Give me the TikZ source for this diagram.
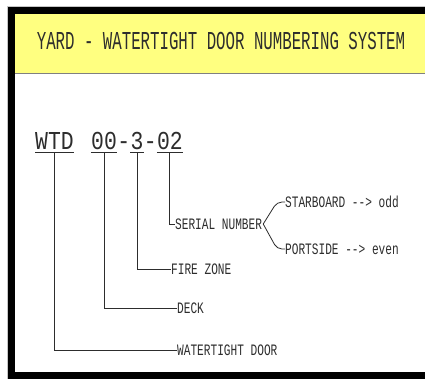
\documentclass[tikz,border=0pt]{standalone}
\usepackage{fontspec}
\usetikzlibrary{positioning}
\newfontfamily\titlefont[FakeStretch=0.61]{Liberation Mono}
\newfontfamily\codefont[FakeStretch=0.83]{Liberation Mono}
\newfontfamily\labelfont[FakeStretch=0.70]{Liberation Mono}
\definecolor{titlebg}{RGB}{255,255,128}
\definecolor{ink}{RGB}{45,45,45}
\begin{document}
\begin{tikzpicture}[x=1pt,y=-1pt,
    ln/.style={draw=ink, line width=0.8pt},
    code/.style={inner sep=0pt, text=ink, font=\codefont\fontsize{25.8}{30}\selectfont},
    lbl/.style={inner sep=0pt, anchor=west, text=ink, font=\labelfont\fontsize{15.9}{18}\selectfont}]
    \useasboundingbox (0,0) rectangle (425,379);
    % Frame
    \draw[gray!45, line width=1pt] (7.5,379) |- (425,6.5);
    \fill[black] (8,7) rectangle (425,379);
    \fill[white] (15,14) rectangle (425,372);
    \fill[titlebg] (15,14) rectangle (425,73);
    \draw[gray, line width=1pt] (15,73.5) -- (425,73.5);
    % Title
    \node[inner sep=0pt, text=ink, font=\titlefont\fontsize{25.8}{30}\selectfont] (title) at (221,41) {YARD - WATERTIGHT DOOR NUMBERING SYSTEM};
    % Number
    \node[code, anchor=base west] (wtd) at (35,150) {WTD};
    \node[code, base right=17pt of wtd] (n00) {00};
    \node[code, base right=0pt of n00] (d1) {-};
    \node[code, base right=0pt of d1] (n3) {3};
    \node[code, base right=0pt of n3] (d2) {-};
    \node[code, base right=0pt of d2] (n02) {02};
    \foreach \p in {wtd,n00,n3,n02}
        \draw[ln] ([yshift=-2pt]\p.south west) -- ([yshift=-2pt]\p.south east);
    % Labels
    \node[lbl] (sn) at (175,224) {SERIAL NUMBER};
    \node[lbl] (sb) at (285,202) {STARBOARD -{}-> odd};
    \node[lbl] (ps) at (285,249) {PORTSIDE -{}-> even};
    \node[lbl] (fz) at (171,269) {FIRE ZONE};
    \node[lbl] (dk) at (177,308) {DECK};
    \node[lbl] (wd) at (177,350) {WATERTIGHT DOOR};
    % Leaders
    \draw[ln] ([yshift=-2pt]n02.south) |- (sn.west);
    \draw[ln] ([yshift=-2pt]n3.south) |- (fz.west);
    \draw[ln] ([yshift=-2pt]n00.south) |- (dk.west);
    \draw[ln] ([yshift=-2pt]wtd.south) |- (wd.west);
    \draw[ln, rounded corners=5pt] ([xshift=1pt]sn.east) -- (277,202) -- (sb.west);
    \draw[ln, rounded corners=5pt] ([xshift=1pt]sn.east) -- (277,249) -- (ps.west);
\end{tikzpicture}
\end{document}
